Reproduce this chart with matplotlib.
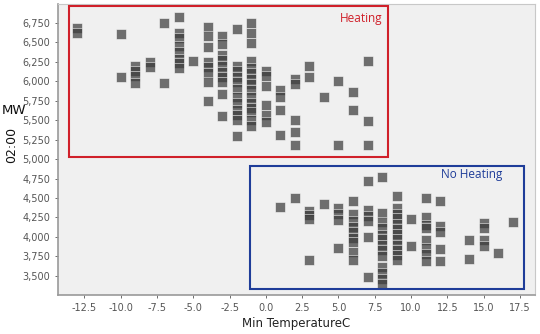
import matplotlib.pyplot as plt
from matplotlib.patches import Rectangle
from matplotlib.ticker import FuncFormatter

# readings per minimum temperature (deg C): MW at 02:00
heating = {
    -13: [6680, 6620],
    -10: [6600, 6050],
    -9: [6200, 6130, 6070, 5980],
    -8: [6250, 6180],
    -7: [6750, 5980],
    -6: [6820, 6620, 6560, 6450, 6370, 6290, 6230, 6170],
    -5: [6260],
    -4: [6700, 6580, 6440, 6250, 6180, 6110, 5990, 5750],
    -3: [6580, 6480, 6330, 6270, 6200, 6120, 6050, 5990, 5840, 5550],
    -2: [6670, 6200, 6130, 6050, 5990, 5900, 5800, 5720, 5630, 5560, 5500, 5300],
    -1: [6740, 6620, 6490, 6260, 6170, 6100, 6030, 5960, 5880, 5800, 5720,
         5650, 5600, 5500, 5420],
    0: [6130, 6060, 5940, 5700, 5570, 5470],
    1: [5880, 5790, 5630, 5310],
    2: [6030, 5960, 5500, 5350, 5180],
    3: [6200, 6050],
    4: [5800],
    5: [6000, 5180],
    6: [5860, 5630],
    7: [6260, 5490, 5180],
}

no_heating = {
    1: [4380],
    2: [4500],
    3: [4330, 4280, 4230, 3700],
    4: [4420],
    5: [4370, 4290, 4220, 3860],
    6: [4460, 4290, 4210, 4130, 4060, 3990, 3940, 3810, 3700],
    7: [4720, 4340, 4270, 4210, 4000, 3490],
    8: [4770, 4310, 4190, 4110, 4030, 3970, 3900, 3830, 3760, 3620, 3540,
        3460, 3400],
    9: [4530, 4370, 4300, 4240, 4170, 4100, 4040, 3970, 3900, 3830, 3770, 3710],
    10: [4230, 3880],
    11: [4500, 4250, 4150, 4110, 3960, 3860, 3780, 3690],
    12: [4460, 4140, 4060, 3840, 3690],
    14: [3960, 3720],
    15: [4180, 4110, 3960, 3890],
    16: [3790],
    17: [4190],
}

temps = []
mw = []
for group in (heating, no_heating):
    for t, vals in group.items():
        temps += [t] * len(vals)
        mw += vals

fig = plt.figure(figsize=(5.4, 3.34), dpi=100)
ax = fig.add_axes([0.107, 0.117, 0.884, 0.871])
ax.set_facecolor("#f0f0f0")

ax.scatter(temps, mw, marker="s", s=44, color="#3c3c3c", alpha=0.72,
           edgecolors="white", linewidths=0.5, zorder=3)

# regime boxes
ax.add_patch(Rectangle((-13.6, 5025), 22.0, 1940, fill=False,
                       edgecolor="#d0202a", linewidth=1.5, zorder=4))
ax.add_patch(Rectangle((-1.1, 3333), 18.9, 1584, fill=False,
                       edgecolor="#1f3d99", linewidth=1.5, zorder=4))
ax.text(8.0, 6800, "Heating", color="#d0202a", fontsize=8.5,
        family="Open Sans", ha="right", va="center")
ax.text(16.3, 4796, "No Heating", color="#1f3d99", fontsize=8.5,
        family="Open Sans", ha="right", va="center")

ax.set_xlim(-14.34, 18.55)
ax.set_ylim(3256, 6990)
ax.set_xticks([-12.5 + 2.5 * i for i in range(13)])
ax.set_yticks(range(3500, 7000, 250))
ax.xaxis.set_major_formatter(FuncFormatter(lambda v, p: f"{v:.1f}"))
ax.yaxis.set_major_formatter(FuncFormatter(lambda v, p: f"{int(v):,}"))
ax.tick_params(labelsize=7, colors="#555555", length=2, width=0.6)

for side in ("top", "right"):
    ax.spines[side].set_color("#c8c8c8")
    ax.spines[side].set_linewidth(0.8)
for side in ("left", "bottom"):
    ax.spines[side].set_color("#999999")
    ax.spines[side].set_linewidth(1.2)

ax.set_xlabel("Min TemperatureC", fontsize=8.5, color="#222222", labelpad=3)
fig.text(0.003, 0.67, "MW", fontsize=9.5, color="#111111", va="center")
fig.text(0.022, 0.565, "02:00", fontsize=9, color="#111111", rotation=90,
         ha="center", va="center")

fig.savefig("out.png", dpi=100)
